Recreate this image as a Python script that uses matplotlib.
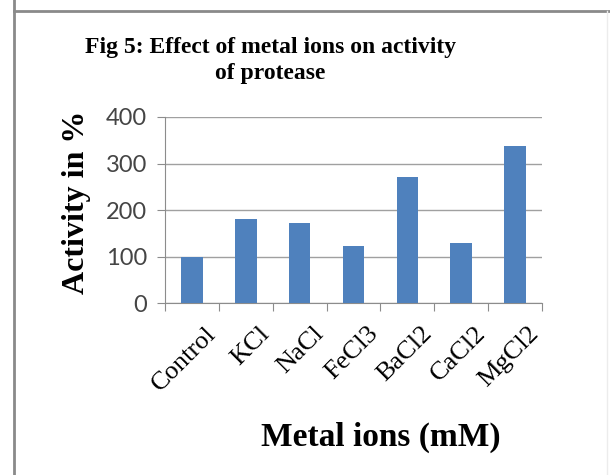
import matplotlib.pyplot as plt
from matplotlib.lines import Line2D
from matplotlib.transforms import ScaledTranslation
import numpy as np

ions = ["Control", "KCl", "NaCl", "FeCl3", "BaCl2", "CaCl2", "MgCl2"]
activity = [98, 180, 172, 122, 271, 129, 338]
yticks = [0, 100, 200, 300, 400]

fig = plt.figure(figsize=(6.1, 4.75), dpi=100)
ax = fig.add_axes([0.2705, 0.362, 0.618, 0.3917])

x = np.arange(len(ions))
ax.bar(x, activity, width=0.4, color="#4F81BD", zorder=3)

ax.set_xlim(-0.5, len(ions) - 0.5)
ax.set_ylim(0, 400)
ax.set_yticks(yticks)
ax.set_yticklabels([str(v) for v in yticks], family="Lato", fontsize=17, color="#454545")
ax.grid(axis="y", color="#a0a0a0", linewidth=1, zorder=0)

# boundary ticks without labels, labels on minor ticks at bar centres
ax.set_xticks(np.arange(-0.5, len(ions)))
ax.set_xticklabels([])
ax.set_xticks(x, minor=True)
ax.set_xticklabels(ions, minor=True, rotation=45, ha="right", va="top",
                   rotation_mode="anchor", family="Liberation Serif", fontsize=19)
ax.tick_params(axis="x", which="major", length=6, color="#8c8c8c", direction="out")
ax.tick_params(axis="x", which="minor", length=0, pad=14)
ax.tick_params(axis="y", length=6, color="#8c8c8c", pad=7)
shift = ScaledTranslation(0.13, 0, fig.dpi_scale_trans)
for lab in ax.get_xticklabels(minor=True):
    lab.set_transform(lab.get_transform() + shift)

for s in ["top", "right"]:
    ax.spines[s].set_visible(False)
for s in ["left", "bottom"]:
    ax.spines[s].set_color("#8c8c8c")

ax.set_ylabel("Activity in %", family="Liberation Serif", fontweight="bold", fontsize=23)
ax.yaxis.set_label_coords(-0.196, 0.54)
ax.set_xlabel("Metal ions (mM)", family="Liberation Serif", fontweight="bold", fontsize=24, va="center")
ax.xaxis.set_label_coords(0.573, -0.72)

fig.text(0.443, 0.872, "Fig 5: Effect of metal ions on activity\nof protease", ha="center", va="center",
         family="Liberation Serif", fontweight="bold", fontsize=17, linespacing=1.3)

# outer frame of the screenshot
fig.add_artist(Line2D([14 / 610, 14 / 610], [0, 1], transform=fig.transFigure, color="#8a8a8a", lw=2))
fig.add_artist(Line2D([14 / 610, 1], [1 - 11 / 475, 1 - 11 / 475], transform=fig.transFigure, color="#8a8a8a", lw=2))
fig.add_artist(Line2D([607 / 610, 607 / 610], [0, 1 - 11 / 475], transform=fig.transFigure, color="#ececec", lw=1))

plt.savefig("out.png", dpi=100)
